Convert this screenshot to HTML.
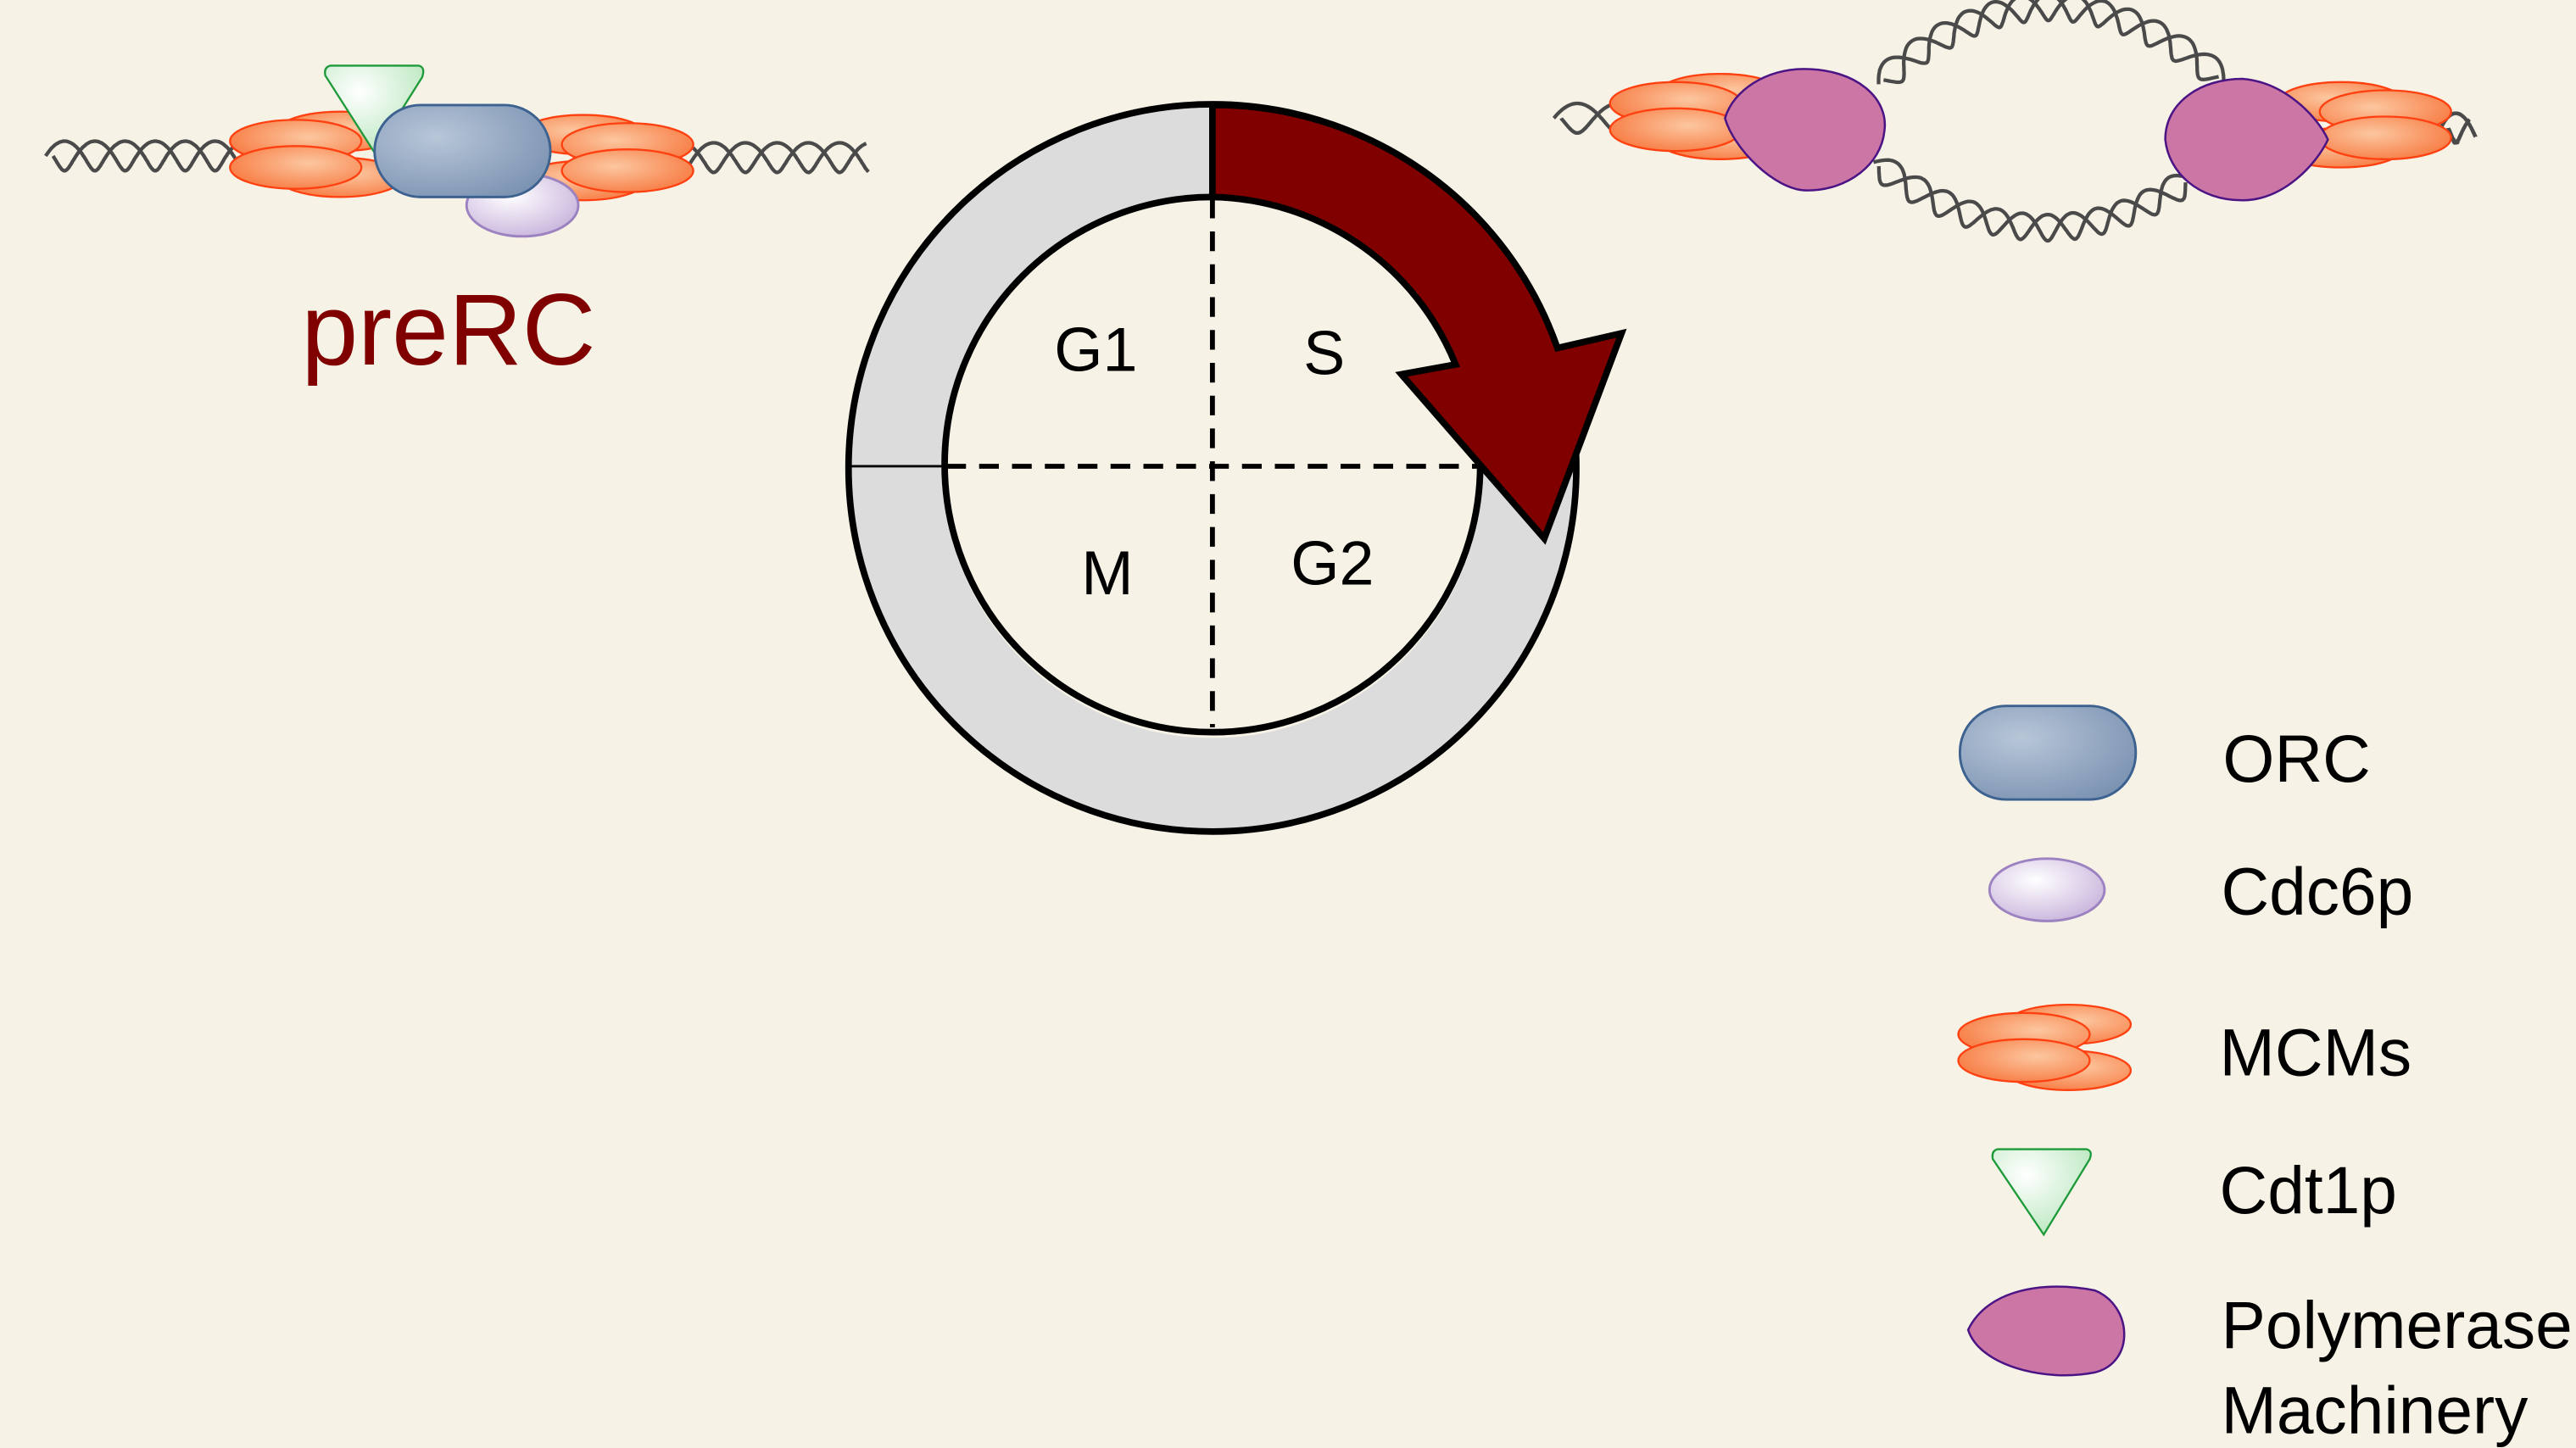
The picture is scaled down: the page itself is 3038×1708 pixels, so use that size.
<!DOCTYPE html>
<html><head><meta charset="utf-8"><style>
html,body{margin:0;padding:0;background:#f6f2e6;}
svg{display:block;}
text{font-family:"Liberation Sans",sans-serif;}
</style></head><body>
<svg id="s" width="3038" height="1708" viewBox="0 0 1568 882" preserveAspectRatio="none">
<defs>
<radialGradient id="gOrc" cx="0.35" cy="0.35" r="0.8"><stop offset="0" stop-color="#b8c6d8"/><stop offset="1" stop-color="#7890b0"/></radialGradient>
<radialGradient id="gCdc" cx="0.4" cy="0.35" r="0.7"><stop offset="0" stop-color="#ffffff"/><stop offset="1" stop-color="#c9b4dc"/></radialGradient>
<radialGradient id="gMcm" cx="0.6" cy="0.4" r="0.7"><stop offset="0" stop-color="#fcc7a0"/><stop offset="1" stop-color="#f7783f"/></radialGradient>
<radialGradient id="gCdt" cx="0.35" cy="0.3" r="0.8"><stop offset="0" stop-color="#ffffff"/><stop offset="1" stop-color="#b6e6bb"/></radialGradient>
<g id="mcm">
<ellipse cx="15" cy="-14" rx="38" ry="12" fill="url(#gMcm)" stroke="#ff4010" stroke-width="1.2"/>
<ellipse cx="15" cy="14" rx="38" ry="12" fill="url(#gMcm)" stroke="#ff4010" stroke-width="1.2"/>
<ellipse cx="-12" cy="-8" rx="40" ry="13" fill="url(#gMcm)" stroke="#ff4010" stroke-width="1.2"/>
<ellipse cx="-12" cy="8" rx="40" ry="13" fill="url(#gMcm)" stroke="#ff4010" stroke-width="1.2"/>
</g>
</defs>
<rect width="1568" height="882" fill="#f6f2e6"/>

<g id="dna" fill="none" stroke="#4a4a4a" stroke-width="2.2"></g>

<!-- preRC complex -->
<g>
<g transform="translate(192,94)"><use href="#mcm"/></g>
<g transform="translate(370,96) scale(-1,1)"><use href="#mcm"/></g>
<path d="M201,40 L255,40 Q259,41 257,47 L228,93 L198,46 Q197,41 201,40Z" fill="url(#gCdt)" stroke="#1e9a3a" stroke-width="1.2"/>
<ellipse cx="318" cy="125" rx="34" ry="19" fill="url(#gCdc)" stroke="#9c82c0" stroke-width="1.5"/>
<rect x="228" y="64" width="107" height="56" rx="28" fill="url(#gOrc)" stroke="#3d6290" stroke-width="1.5"/>
</g>
<text x="273" y="222" font-size="62" fill="#800000" text-anchor="middle">preRC</text>

<!-- replication bubble -->
<g>
<g transform="translate(1032,71)"><use href="#mcm"/></g>
<path d="M1098,42 C1130,42 1150,60 1147,80 C1145,100 1125,116 1100,116 C1080,116 1055,90 1050,72 C1055,55 1075,42 1098,42Z" fill="#cc76a6" stroke="#4b1485" stroke-width="1.3"/>
<g transform="translate(1440,76) scale(-1,1)"><use href="#mcm"/></g>
<path d="M1365,48 C1390,50 1410,70 1417,85 C1410,100 1390,122 1365,122 C1338,122 1320,105 1318,85 C1318,62 1340,48 1365,48Z" fill="#cc76a6" stroke="#4b1485" stroke-width="1.3"/>
</g>

<!-- cell cycle -->
<g>
<circle cx="738" cy="285" r="193" fill="none" stroke="#dcdcdc" stroke-width="57"/>
<circle cx="738" cy="285" r="221.5" fill="none" stroke="#000" stroke-width="4"/>
<circle cx="738" cy="283" r="163" fill="#f6f2e6" stroke="#000" stroke-width="4"/>
<line x1="516" y1="284" x2="574" y2="284" stroke="#000" stroke-width="1.5"/>
<line x1="576" y1="284" x2="900" y2="284" stroke="#000" stroke-width="3" stroke-dasharray="12,8"/>
<line x1="738" y1="121" x2="738" y2="443" stroke="#000" stroke-width="3" stroke-dasharray="12,8"/>
</g>
<path d="M738,64 A221,221 0 0 1 948,212 L987,203 L940,328 L853,228 L886,222 A163,163 0 0 0 738,120 Z" fill="#800000" stroke="#000" stroke-width="4" stroke-linejoin="miter"/>
<line x1="738" y1="66" x2="738" y2="118" stroke="#000" stroke-width="1.5"/>

<g font-size="38" fill="#000" text-anchor="middle">
<text x="667" y="226">G1</text>
<text x="806" y="228">S</text>
<text x="674" y="362">M</text>
<text x="811" y="356">G2</text>
</g>

<!-- legend -->
<g>
<rect x="1193" y="430" width="107" height="57" rx="28" fill="url(#gOrc)" stroke="#3d6290" stroke-width="1.5"/>
<ellipse cx="1246" cy="542" rx="35" ry="19" fill="url(#gCdc)" stroke="#9c82c0" stroke-width="1.5"/>
<g transform="translate(1244,638)"><use href="#mcm"/></g>
<path d="M1216,700 L1270,700 Q1274,701 1272,706 L1244,752 L1213,706 Q1212,701 1216,700Z" fill="url(#gCdt)" stroke="#1e9a3a" stroke-width="1.2"/>
<path d="M1198,810 C1210,785 1245,780 1275,786 C1298,795 1300,830 1275,836 C1245,842 1205,832 1198,810Z" fill="#cc76a6" stroke="#4b1485" stroke-width="1.3"/>
<g font-size="40.5" fill="#000">
<text x="1353" y="476">ORC</text>
<text x="1352" y="557">Cdc6p</text>
<text x="1351" y="655">MCMs</text>
<text x="1351" y="739">Cdt1p</text>
<text x="1352" y="821">Polymerase</text>
<text x="1352" y="873">Machinery</text>
</g>
</g>
</svg>
<script>
var g=document.getElementById('dna');
function helix(p0,p1,p2,amp,turns){
  for(var ph=0;ph<2;ph++){
    var d='';var N=240;
    for(var i=0;i<=N;i++){
      var t=i/N;
      var x=(1-t)*(1-t)*p0[0]+2*(1-t)*t*p1[0]+t*t*p2[0];
      var y=(1-t)*(1-t)*p0[1]+2*(1-t)*t*p1[1]+t*t*p2[1];
      var dx=2*(1-t)*(p1[0]-p0[0])+2*t*(p2[0]-p1[0]);
      var dy=2*(1-t)*(p1[1]-p0[1])+2*t*(p2[1]-p1[1]);
      var L=Math.sqrt(dx*dx+dy*dy)||1;
      var o=amp*Math.sin(t*turns*2*Math.PI+ph*Math.PI);
      var sh=amp*0.25*Math.cos(t*turns*2*Math.PI+ph*Math.PI);
      d+=(i?'L':'M')+(x-dy/L*o+dx/L*sh).toFixed(1)+','+(y+dx/L*o+dy/L*sh).toFixed(1);
    }
    var p=document.createElementNS('http://www.w3.org/2000/svg','path');
    p.setAttribute('d',d);
    
    
    g.appendChild(p);
  }
}
helix([30,95],[95,95],[158,95],9,3.5);
helix([405,96],[468,96],[528,96],9,3.2);
helix([948,72],[972,72],[998,72],9,1);
helix([1145,50],[1245,-40],[1352,48],8,6.5);
helix([1142,100],[1240,172],[1332,110],8,6);
helix([1488,78],[1496,78],[1505,78],9,0.6);
</script>
</body></html>
